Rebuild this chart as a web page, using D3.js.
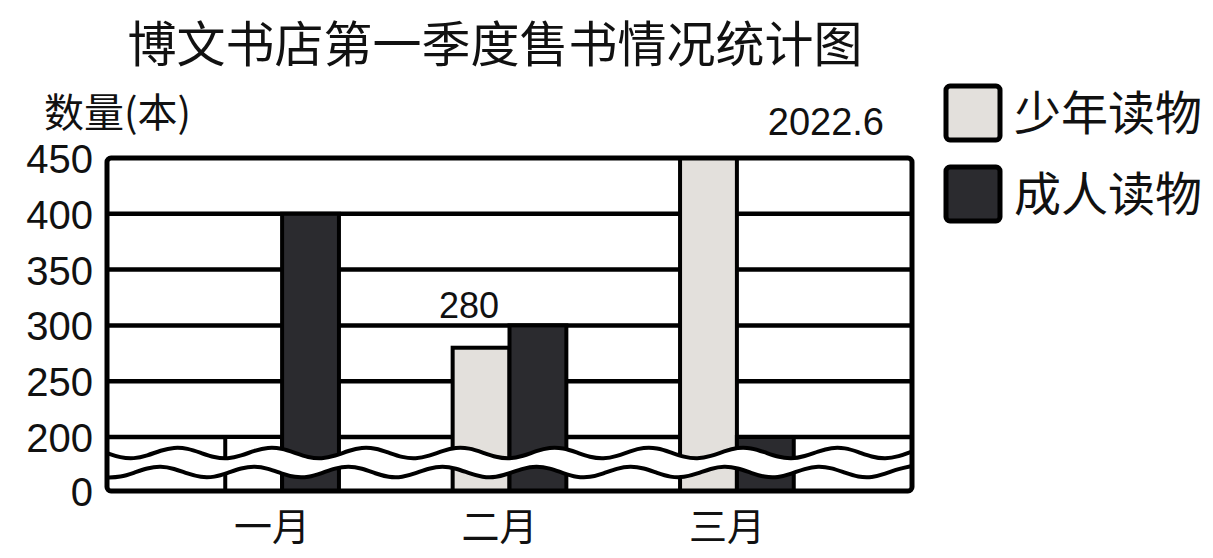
<!DOCTYPE html>
<html>
<head>
<meta charset="utf-8">
<script src="https://cdn.jsdelivr.net/npm/d3@7"></script>
<style>
  body { margin: 0; background: #fff; }
  svg { display: block; }
  text { font-family: "Noto Sans CJK SC", "Liberation Sans", sans-serif; fill: #111; }
  .num { font-family: "Liberation Sans", sans-serif; }
</style>
</head>
<body>
<svg id="svg" width="1213" height="558"></svg>
<script>
// data
const months = ["一月", "二月", "三月"];
const juvenile = [null, 280, 450];   // 少年读物 (一月 left blank)
const adult = [400, 300, 200];       // 成人读物
const yTicks = [0, 200, 250, 300, 350, 400, 450];
const seriesNames = ["少年读物", "成人读物"];
const seriesColors = ["#e3e0dc", "#2b2b2f"];

const svg = d3.select("#svg");
const plotLeft = 107, plotRight = 912, plotTop = 158, plotBottom = 491;

// broken axis: 0 -> 200 squeezed into the bottom band
const y = d3.scaleLinear().domain([0, 200, 450]).range([plotBottom, 437, plotTop]);
const x = d3.scaleBand().domain(months).range([plotLeft, plotRight])
  .paddingInner(0.5).paddingOuter(0.52);

svg.append("rect").attr("width", 1213).attr("height", 558).attr("fill", "#fff");

// title
svg.append("text").attr("x", 495).attr("y", 62).attr("text-anchor", "middle")
  .style("font-size", "49px").text("博文书店第一季度售书情况统计图");

svg.append("text").attr("x", 44).attr("y", 127)
  .style("font-size", "40px").text("数量(本)");

svg.append("text").attr("class", "num").attr("x", 884).attr("y", 135)
  .attr("text-anchor", "end").style("font-size", "38px").text("2022.6");

// gridlines
svg.append("g").selectAll("line")
  .data(yTicks.filter(d => d > 0 && d < 450))
  .enter().append("line")
  .attr("x1", plotLeft).attr("x2", plotRight)
  .attr("y1", d => y(d)).attr("y2", d => y(d))
  .attr("stroke", "#000").attr("stroke-width", 4.5);

// bars
const bw = x.bandwidth() / 2;
const bars = [];
months.forEach((m, i) => {
  bars.push({ m, k: 0, v: juvenile[i] });
  bars.push({ m, k: 1, v: adult[i] });
});

svg.append("g").selectAll("rect")
  .data(bars)
  .enter().append("rect")
  .attr("x", d => x(d.m) + d.k * bw)
  .attr("width", bw)
  .attr("y", d => d.v == null ? y(200) : y(d.v))
  .attr("height", d => plotBottom - (d.v == null ? y(200) : y(d.v)))
  .attr("fill", d => d.v == null ? "#fff" : seriesColors[d.k])
  .attr("stroke", "#000").attr("stroke-width", 4);

// break: white gap between two wavy lines
const steps = d3.range(0, 61).map(i => plotLeft + i * (plotRight - plotLeft) / 60);
const waveA = steps.map(px => [px, 453 + 6 * Math.sin((px - plotLeft) / 15)]);
const waveB = steps.map(px => [px, 472 + 6 * Math.sin((px - plotLeft) / 15 + 1.2)]);
const curve = d3.line().curve(d3.curveBasis);

svg.append("path")
  .attr("d", curve(waveA) + "L" + waveB.slice().reverse().map(p => p.join(",")).join("L") + "Z")
  .attr("fill", "#fff");
svg.append("path").attr("d", curve(waveA)).attr("fill", "none").attr("stroke", "#000").attr("stroke-width", 4);
svg.append("path").attr("d", curve(waveB)).attr("fill", "none").attr("stroke", "#000").attr("stroke-width", 4);

// frame
svg.append("rect").attr("x", plotLeft).attr("y", plotTop)
  .attr("width", plotRight - plotLeft).attr("height", plotBottom - plotTop)
  .attr("rx", 4).attr("fill", "none").attr("stroke", "#000").attr("stroke-width", 5);

// y axis labels
const yAxis = d3.axisLeft(y).tickValues(yTicks).tickSize(0).tickPadding(14);
const ga = svg.append("g").attr("transform", `translate(${plotLeft},0)`).call(yAxis);
ga.select(".domain").remove();
ga.selectAll("text").attr("class", "num").style("font-size", "40px").attr("fill", "#111")
  .attr("dy", "0.36em");

// x axis labels
const xa = svg.append("g").attr("transform", `translate(0,${plotBottom})`)
  .call(d3.axisBottom(x).tickSize(0).tickPadding(22));
xa.select(".domain").remove();
xa.selectAll("text").style("font-size", "38px").attr("fill", "#111")
  .attr("dx", "-10px").attr("dy", "0.72em");

// value label
svg.append("text").attr("class", "num")
  .attr("x", x("二月") + bw / 2 - 12).attr("y", y(280) - 30)
  .attr("text-anchor", "middle").style("font-size", "36px").text("280");

// legend
const lg = svg.append("g").selectAll("g")
  .data(seriesNames).enter().append("g")
  .attr("transform", (d, i) => `translate(946,${86 + i * 81})`);
lg.append("rect").attr("width", 54).attr("height", 54).attr("rx", 4)
  .attr("fill", (d, i) => seriesColors[i]).attr("stroke", "#000").attr("stroke-width", 5);
lg.append("text").attr("x", 68).attr("y", 44).style("font-size", "47px").text(d => d);
</script>
</body>
</html>
